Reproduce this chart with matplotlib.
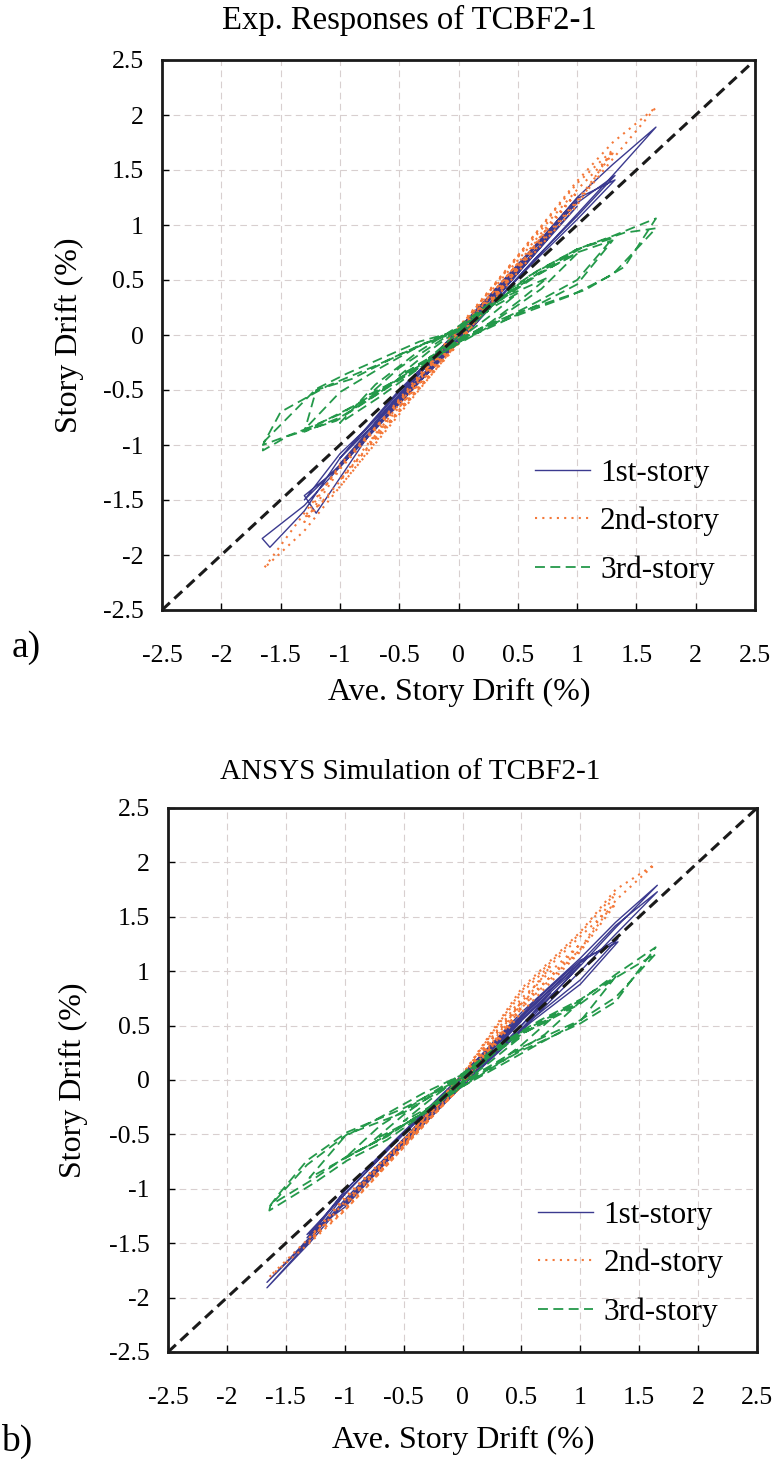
import matplotlib
matplotlib.use('Agg')
import matplotlib.pyplot as plt

plt.rcParams['font.family'] = ['Liberation Serif', 'DejaVu Serif']

## Data (story drift vs average story drift, %)
ticks = [-2.5, -2, -1.5, -1, -0.5, 0, 0.5, 1, 1.5, 2, 2.5]
tick_labels = ['-2.5', '-2', '-1.5', '-1', '-0.5', '0', '0.5', '1', '1.5', '2', '2.5']
diag = [-2.5, 2.5]
story_labels = ['1st-story', '2nd-story', '3rd-story']

# a) experiment
exp_s1_x = [0.0, 0.12, 0.25, 0.12, 0.0, -0.12, -0.25, -0.12,
            0.0, 0.25, 0.5, 0.25, 0.0, -0.25, -0.5, -0.25,
            0.0, 0.38, 0.75, 0.38, 0.0, -0.38, -0.75, -0.38,
            0.0, 0.5, 1.0, 0.5, 0.0, -0.5, -1.0, -0.5,
            0.0, 0.5, 1.0, 0.5, 0.0, -0.5, -1.0, -0.5,
            0.0, 0.65, 1.0, 1.32, 1.0, 0.65, 0.0, -0.65, -1.0, -1.3, -1.0, -0.65,
            0.0, 0.65, 1.0, 1.32, 1.0, 0.65, 0.0, -0.65, -1.0, -1.3, -1.2, -0.65,
            0.0, 0.5, 1.0, 1.3, 1.665, 1.3, 1.0, 0.5, 0.0, -0.5, -1.0, -1.3, -1.655, -1.59, -1.3, -1.0, -0.5, 0.0]
exp_s1_y = [0.0, 0.14, 0.29, 0.13, -0.01, -0.14, -0.28, -0.12,
            0.02, 0.3, 0.58, 0.27, -0.03, -0.3, -0.57, -0.26,
            0.03, 0.45, 0.87, 0.41, -0.04, -0.45, -0.86, -0.4,
            0.04, 0.6, 1.17, 0.56, -0.05, -0.6, -1.17, -0.55,
            0.03, 0.62, 1.22, 0.58, -0.04, -0.58, -1.12, -0.52,
            0.05, 0.8, 1.2, 1.45, 1.08, 0.7, -0.06, -0.78, -1.18, -1.5, -1.08, -0.72,
            0.05, 0.82, 1.24, 1.41, 1.05, 0.68, -0.05, -0.8, -1.2, -1.46, -1.62, -0.74,
            0.06, 0.62, 1.25, 1.55, 1.89, 1.45, 1.1, 0.52, -0.07, -0.6, -1.2, -1.55, -1.85, -1.93, -1.6, -1.12, -0.5, 0.03]

exp_s2_x = [0.0, 0.12, 0.25, 0.12, 0.0, -0.12, -0.25, -0.12,
            0.0, 0.25, 0.5, 0.25, 0.0, -0.25, -0.5, -0.25,
            0.0, 0.38, 0.75, 0.38, 0.0, -0.38, -0.75, -0.38,
            0.0, 0.5, 1.0, 0.5, 0.0, -0.5, -1.0, -0.5,
            0.0, 0.65, 1.0, 1.3, 1.0, 0.65, 0.0, -0.65, -1.0, -1.3, -1.0, -0.65,
            0.0, 0.65, 1.0, 1.3, 1.0, 0.65, 0.0, -0.65, -1.0, -1.3, -1.0, -0.65,
            0.0, 0.5, 1.0, 1.3, 1.665, 1.3, 1.0, 0.5, 0.0, -0.5, -1.0, -1.3, -1.64, -1.3, -1.0, -0.5, 0.0]
exp_s2_y = [0.0, 0.16, 0.33, 0.15, -0.02, -0.16, -0.32, -0.14,
            0.02, 0.34, 0.65, 0.3, -0.04, -0.34, -0.66, -0.3,
            0.03, 0.5, 0.97, 0.45, -0.05, -0.5, -0.98, -0.46,
            0.05, 0.68, 1.3, 0.62, -0.06, -0.68, -1.32, -0.62,
            0.06, 0.9, 1.32, 1.65, 1.22, 0.8, -0.07, -0.88, -1.33, -1.7, -1.22, -0.8,
            0.05, 0.92, 1.38, 1.68, 1.18, 0.76, -0.06, -0.92, -1.38, -1.66, -1.18, -0.78,
            0.07, 0.72, 1.4, 1.75, 2.07, 1.6, 1.2, 0.6, -0.08, -0.7, -1.38, -1.78, -2.12, -1.62, -1.2, -0.6, 0.02]

exp_s3_x = [0.0, 0.12, 0.25, 0.12, 0.0, -0.12, -0.25, -0.12,
            0.0, 0.25, 0.5, 0.25, 0.0, -0.25, -0.5, -0.25,
            0.0, 0.38, 0.75, 0.5, 0.25, 0.0, -0.38, -0.75, -0.5, -0.25,
            0.0, 0.33, 0.66, 1.0, 0.7, 0.35, 0.0, -0.33, -0.66, -1.0, -0.7, -0.35,
            0.0, 0.33, 0.66, 1.0, 1.3, 1.0, 0.66, 0.33, 0.0, -0.33, -0.66, -1.0, -1.3, -1.0, -0.66, -0.33,
            0.0, 0.33, 0.66, 1.0, 1.3, 1.0, 0.66, 0.33, 0.0, -0.33, -0.66, -1.0, -1.3, -1.2, -0.9, -0.5,
            0.0, 0.33, 0.6, 1.0, 1.3, 1.665, 1.4, 1.07, 0.6, 0.25, 0.0, -0.27, -0.7, -1.03, -1.44, -1.65, -1.64, -1.2, -0.94, -0.33, 0.0,
            0.0, 0.35, 0.7, 1.05, 1.4, 1.665, 1.3, 0.95, 0.55, 0.2, 0.0, -0.35, -0.8, -1.2, -1.65, -1.5, -1.1, -0.7, -0.3, 0.0]
exp_s3_y = [0.0, 0.12, 0.22, 0.1, -0.01, -0.11, -0.21, -0.09,
            0.03, 0.23, 0.38, 0.16, -0.04, -0.22, -0.37, -0.15,
            0.05, 0.34, 0.52, 0.3, 0.1, -0.06, -0.33, -0.54, -0.3, -0.12,
            0.06, 0.32, 0.55, 0.74, 0.42, 0.16, -0.07, -0.3, -0.56, -0.8, -0.45, -0.16,
            0.08, 0.34, 0.58, 0.78, 0.88, 0.5, 0.3, 0.12, -0.08, -0.28, -0.5, -0.72, -0.86, -0.52, -0.3, -0.1,
            0.06, 0.3, 0.54, 0.75, 0.86, 0.46, 0.27, 0.1, -0.06, -0.26, -0.52, -0.75, -0.88, -0.5, -0.4, -0.18,
            0.05, 0.31, 0.54, 0.78, 0.9, 1.06, 0.62, 0.41, 0.24, 0.1, -0.05, -0.25, -0.55, -0.78, -0.92, -1.05, -0.97, -0.49, -0.35, -0.06, 0.04,
            0.04, 0.33, 0.58, 0.8, 0.93, 0.97, 0.55, 0.36, 0.2, 0.06, -0.04, -0.3, -0.6, -0.82, -1.0, -0.7, -0.46, -0.28, -0.08, 0.03]

# b) ANSYS simulation
sim_s1_x = [0.0, 0.12, 0.25, 0.12, 0.0, -0.12, -0.25, -0.12,
            0.0, 0.25, 0.5, 0.25, 0.0, -0.25, -0.5, -0.25,
            0.0, 0.38, 0.75, 0.38, 0.0, -0.38, -0.75, -0.38,
            0.0, 0.5, 1.0, 0.5, 0.0, -0.5, -1.0, -0.5,
            0.0, 0.65, 1.0, 1.32, 1.0, 0.58, 0.0, -0.65, -1.0, -1.32, -1.0, -0.6,
            0.0, 0.65, 1.0, 1.32, 1.0, 0.58, 0.0, -0.65, -1.0, -1.32, -1.0, -0.6,
            0.0, 0.5, 1.0, 1.3, 1.654, 1.3, 1.0, 0.5, 0.0, -0.5, -1.0, -1.3, -1.66, -1.3, -1.0, -0.5, 0.0,
            0.0, 0.5, 1.0, 1.3, 1.654, 1.3, 1.0, 0.5, 0.0, -0.5, -1.0, -1.3, -1.66, -1.3, -1.0, -0.5, 0.0]
sim_s1_y = [0.0, 0.13, 0.27, 0.12, -0.01, -0.13, -0.28, -0.13,
            0.02, 0.28, 0.54, 0.25, -0.03, -0.3, -0.58, -0.27,
            0.03, 0.42, 0.8, 0.36, -0.04, -0.44, -0.86, -0.4,
            0.04, 0.56, 1.06, 0.47, -0.05, -0.58, -1.15, -0.55,
            0.05, 0.76, 1.1, 1.27, 0.88, 0.53, -0.05, -0.76, -1.17, -1.42, -1.05, -0.6,
            0.04, 0.74, 1.08, 1.3, 0.92, 0.55, -0.04, -0.74, -1.14, -1.45, -1.02, -0.58,
            0.05, 0.62, 1.12, 1.45, 1.79, 1.4, 1.05, 0.5, -0.04, -0.56, -1.12, -1.5, -1.91, -1.48, -1.05, -0.5, 0.02,
            0.04, 0.58, 1.08, 1.42, 1.73, 1.34, 1.0, 0.46, -0.03, -0.54, -1.1, -1.47, -1.86, -1.45, -1.02, -0.48, 0.02]

sim_s2_x = [0.0, 0.12, 0.25, 0.12, 0.0, -0.12, -0.25, -0.12,
            0.0, 0.25, 0.5, 0.25, 0.0, -0.25, -0.5, -0.25,
            0.0, 0.38, 0.75, 0.38, 0.0, -0.38, -0.75, -0.38,
            0.0, 0.5, 1.0, 0.5, 0.0, -0.5, -1.0, -0.5,
            0.0, 0.5, 1.0, 1.3, 1.0, 0.5, 0.0, -0.5, -1.0, -1.3, -1.0, -0.5,
            0.0, 0.5, 1.0, 1.3, 1.0, 0.5, 0.0, -0.5, -1.0, -1.3, -1.0, -0.5,
            0.0, 0.5, 1.0, 1.3, 1.63, 1.3, 1.0, 0.5, 0.0, -0.5, -1.0, -1.3, -1.64, -1.3, -1.0, -0.5, 0.0]
sim_s2_y = [0.0, 0.18, 0.36, 0.16, -0.01, -0.13, -0.28, -0.13,
            0.02, 0.38, 0.72, 0.34, -0.03, -0.3, -0.6, -0.28,
            0.03, 0.55, 1.05, 0.5, -0.04, -0.46, -0.9, -0.42,
            0.04, 0.75, 1.25, 0.66, -0.05, -0.58, -1.15, -0.55,
            0.05, 0.8, 1.32, 1.62, 1.18, 0.62, -0.05, -0.6, -1.18, -1.45, -1.1, -0.55,
            0.04, 0.82, 1.35, 1.72, 1.2, 0.66, -0.04, -0.62, -1.2, -1.48, -1.12, -0.56,
            0.05, 0.84, 1.36, 1.75, 1.98, 1.65, 1.2, 0.7, -0.04, -0.62, -1.2, -1.5, -1.81, -1.45, -1.08, -0.55, 0.02]

sim_s3_x = [0.0, 0.12, 0.25, 0.12, 0.0, -0.12, -0.25, -0.12,
            0.0, 0.25, 0.5, 0.25, 0.0, -0.25, -0.5, -0.25,
            0.0, 0.38, 0.75, 0.5, 0.25, 0.0, -0.38, -0.75, -0.5, -0.25,
            0.0, 0.33, 0.66, 1.0, 0.7, 0.35, 0.0, -0.33, -0.66, -1.0, -0.7, -0.35,
            0.0, 0.33, 0.66, 1.0, 1.3, 1.0, 0.66, 0.33, 0.0, -0.33, -0.66, -1.0, -1.3, -1.0, -0.66, -0.33,
            0.0, 0.5, 1.0, 1.3, 1.64, 1.3, 1.0, 0.5, 0.0, -0.3, -0.64, -0.98, -1.25, -1.64, -1.63, -1.56, -1.32, -0.98, -0.5, 0.0,
            0.0, 0.5, 1.0, 1.3, 1.64, 1.3, 1.0, 0.5, 0.0, -0.3, -0.64, -0.98, -1.25, -1.63, -1.56, -1.32, -0.98, -0.5, 0.0]
sim_s3_y = [0.0, 0.12, 0.23, 0.1, -0.01, -0.12, -0.22, -0.1,
            0.03, 0.24, 0.4, 0.18, -0.03, -0.23, -0.38, -0.16,
            0.04, 0.36, 0.56, 0.32, 0.12, -0.05, -0.34, -0.55, -0.32, -0.13,
            0.05, 0.32, 0.52, 0.72, 0.42, 0.18, -0.06, -0.3, -0.52, -0.72, -0.42, -0.18,
            0.06, 0.34, 0.55, 0.74, 0.95, 0.54, 0.34, 0.14, -0.06, -0.3, -0.52, -0.72, -0.9, -0.52, -0.32, -0.12,
            0.05, 0.44, 0.73, 0.97, 1.22, 0.72, 0.52, 0.27, -0.03, -0.29, -0.55, -0.74, -0.94, -1.2, -1.15, -1.07, -0.78, -0.5, -0.3, 0.02,
            0.04, 0.42, 0.7, 0.94, 1.16, 0.76, 0.55, 0.3, -0.02, -0.27, -0.52, -0.7, -0.9, -1.15, -1.05, -0.74, -0.48, -0.26, 0.02]

## Styles
navy = '#3b3a8f'
orange = '#f4793a'
green = '#24994a'
W, H = 775, 1462

fig = plt.figure(figsize=(W / 100, H / 100), dpi=100)


def add_panel(left, top, right, bottom, s1, s2, s3):
    ax = fig.add_axes([left / W, 1 - bottom / H, (right - left) / W, (bottom - top) / H])
    ax.plot(s1[0], s1[1], color=navy, lw=1.0, label=story_labels[0])
    ax.plot(s2[0], s2[1], color=orange, lw=1.5, linestyle=(0, (1, 2.5)), label=story_labels[1])
    ax.plot(s3[0], s3[1], color=green, lw=1.3, linestyle=(0, (5.5, 3)), label=story_labels[2])
    ax.plot(diag, diag, color='#1a1a1a', lw=2.2, linestyle=(0, (3.5, 2)), zorder=5)
    ax.set_xlim(-2.5, 2.5)
    ax.set_ylim(-2.5, 2.5)
    ax.set_xticks(ticks)
    ax.set_yticks(ticks)
    ax.set_xticklabels(tick_labels)
    ax.set_yticklabels(tick_labels)
    ax.grid(True, color='#d8cfcf', lw=0.8, linestyle=(0, (6, 4)))
    ax.set_axisbelow(True)
    ax.tick_params(direction='in', length=5, width=1, labelsize=18.5, top=False, right=False)
    ax.tick_params(axis='x', pad=25)
    ax.tick_params(axis='y', pad=13)
    for sp in ax.spines.values():
        sp.set_linewidth(2)
        sp.set_color('#1a1a1a')
    ax.legend(loc='lower left', bbox_to_anchor=(0.629, 0.046), frameon=False, fontsize=22.5,
              handlelength=1.76, handletextpad=0.32, labelspacing=0.61, borderpad=0, borderaxespad=0)
    return ax


add_panel(162, 60, 755, 610, (exp_s1_x, exp_s1_y), (exp_s2_x, exp_s2_y), (exp_s3_x, exp_s3_y))
add_panel(168, 808, 757, 1352, (sim_s1_x, sim_s1_y), (sim_s2_x, sim_s2_y), (sim_s3_x, sim_s3_y))

fig.text(409 / W, 1 - 20 / H, 'Exp. Responses of TCBF2-1', ha='center', va='center', fontsize=23.5)
fig.text(410 / W, 1 - 772 / H, 'ANSYS Simulation of TCBF2-1', ha='center', va='center', fontsize=21)
fig.text(459 / W, 1 - 692 / H, 'Ave. Story Drift (%)', ha='center', va='center', fontsize=23)
fig.text(463 / W, 1 - 1440 / H, 'Ave. Story Drift (%)', ha='center', va='center', fontsize=23)
fig.text(69 / W, 1 - 335 / H, 'Story Drift (%)', ha='center', va='center', rotation=90, fontsize=23)
fig.text(73 / W, 1 - 1080 / H, 'Story Drift (%)', ha='center', va='center', rotation=90, fontsize=23)
fig.text(26 / W, 1 - 648 / H, 'a)', ha='center', va='center', fontsize=27)
fig.text(17 / W, 1 - 1441 / H, 'b)', ha='center', va='center', fontsize=27)

fig.savefig('out.png', dpi=100)
